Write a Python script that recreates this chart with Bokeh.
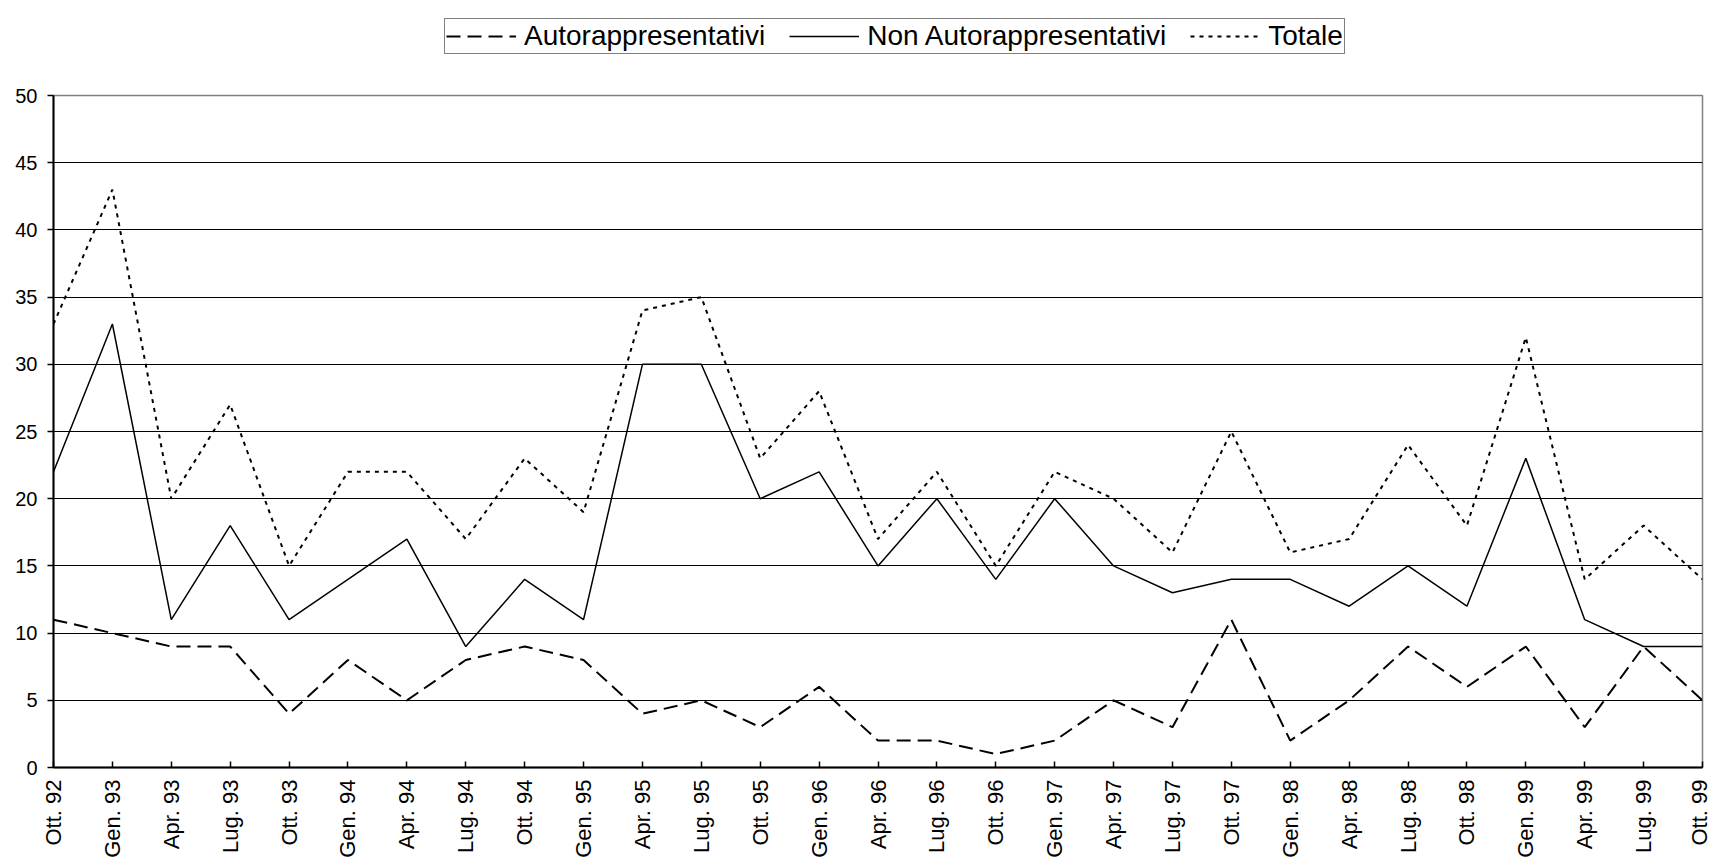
from bokeh.plotting import figure
from bokeh.models import FixedTicker, Legend, LegendItem, ColumnDataSource
from bokeh.layouts import column
from bokeh.embed import file_html
from bokeh.resources import INLINE
import math

labels = ["Ott. 92", "Gen. 93", "Apr. 93", "Lug. 93", "Ott. 93", "Gen. 94", "Apr. 94", "Lug. 94",
          "Ott. 94", "Gen. 95", "Apr. 95", "Lug. 95", "Ott. 95", "Gen. 96", "Apr. 96", "Lug. 96",
          "Ott. 96", "Gen. 97", "Apr. 97", "Lug. 97", "Ott. 97", "Gen. 98", "Apr. 98", "Lug. 98",
          "Ott. 98", "Gen. 99", "Apr. 99", "Lug. 99", "Ott. 99"]
autorappresentativi = [11, 10, 9, 9, 4, 8, 5, 8, 9, 8, 4, 5, 3, 6, 2, 2, 1, 2, 5, 3, 11, 2, 5, 9, 6, 9, 3, 9, 5]
non_autorappresentativi = [22, 33, 11, 18, 11, 14, 17, 9, 14, 11, 30, 30, 20, 22, 15, 20, 14, 20, 15, 13, 14, 14, 12, 15, 12, 23, 11, 9, 9]
totale = [33, 43, 20, 27, 15, 22, 22, 17, 23, 19, 34, 35, 23, 28, 17, 22, 15, 22, 20, 16, 25, 16, 17, 24, 18, 32, 14, 18, 14]
y_ticks = [0, 5, 10, 15, 20, 25, 30, 35, 40, 45, 50]
series_names = ["Autorappresentativi", "Non Autorappresentativi", "Totale"]

FONT = "Liberation Sans"
STYLES = [dict(line_color="black", line_width=2, line_dash="14 7"),
          dict(line_color="black", line_width=1.5),
          dict(line_color="black", line_width=2, line_dash="4 5")]

idx = list(range(len(labels)))
src = ColumnDataSource(dict(x=idx, a=autorappresentativi, n=non_autorappresentativi, t=totale))

# ---- legend strip (separate figure so the legend is not clipped) ----
leg = figure(width=1711, height=80, output_backend="svg", toolbar_location=None,
             x_range=(0, 1), y_range=(0, 1), x_axis_type=None, y_axis_type=None,
             min_border_left=0, min_border_right=0, min_border_top=0, min_border_bottom=0)
leg.grid.visible = False
leg.outline_line_color = None
leg.background_fill_color = "white"
leg.border_fill_color = "white"
dummy = ColumnDataSource(dict(x=[-10, -9], y=[-10, -10]))
lr = [leg.line("x", "y", source=dummy, **st) for st in STYLES]
# the column aligns this frame with the chart frame (53 px from the left)
legend = Legend(items=[LegendItem(label=nm, renderers=[r]) for nm, r in zip(series_names, lr)],
                orientation="horizontal", location=(391, 26))
legend.label_text_font = FONT
legend.label_text_font_size = "28px"
legend.label_text_color = "black"
legend.glyph_width = 70
legend.glyph_height = 20
legend.label_standoff = 8
legend.spacing = 24
legend.padding = 1
legend.margin = 0
legend.border_line_color = "black"
legend.border_line_width = 1.5
legend.background_fill_color = "white"
legend.background_fill_alpha = 1
leg.add_layout(legend, "center")

# ---- main chart ----
p = figure(width=1711, height=780, output_backend="svg", toolbar_location=None,
           x_range=(0, len(labels) - 1), y_range=(0, 50),
           min_border_left=53, min_border_right=9, min_border_top=15, min_border_bottom=92)
p.background_fill_color = "white"
p.border_fill_color = "white"
p.outline_line_color = "#808080"
p.outline_line_width = 1.5

p.xaxis.ticker = FixedTicker(ticks=idx)
p.xaxis.major_label_overrides = {i: l for i, l in enumerate(labels)}
p.xaxis.major_label_orientation = math.pi / 2
p.xaxis.major_tick_in = 6
p.xaxis.major_tick_out = 0
p.xaxis.minor_tick_line_color = None
p.xaxis.major_label_standoff = 12
p.xaxis.major_label_text_font_size = "22px"
p.yaxis.ticker = FixedTicker(ticks=y_ticks)
p.yaxis.major_tick_in = 0
p.yaxis.major_tick_out = 6
p.yaxis.minor_tick_line_color = None
p.yaxis.major_label_standoff = 10
p.yaxis.major_label_text_font_size = "20px"
for ax in (p.xaxis, p.yaxis):
    ax.axis_line_color = "black"
    ax.axis_line_width = 2
    ax.major_tick_line_color = "black"
    ax.major_tick_line_width = 1.5
    ax.major_label_text_font = FONT
    ax.major_label_text_color = "black"

p.xgrid.grid_line_color = None
p.ygrid.ticker = FixedTicker(ticks=y_ticks[1:-1])
p.ygrid.grid_line_color = "black"
p.ygrid.grid_line_width = 1.2

p.line("x", "a", source=src, **STYLES[0])
p.line("x", "n", source=src, **STYLES[1])
p.line("x", "t", source=src, **STYLES[2])

layout = column(leg, p, spacing=0)
open("out.html", "w").write(file_html(layout, INLINE))
